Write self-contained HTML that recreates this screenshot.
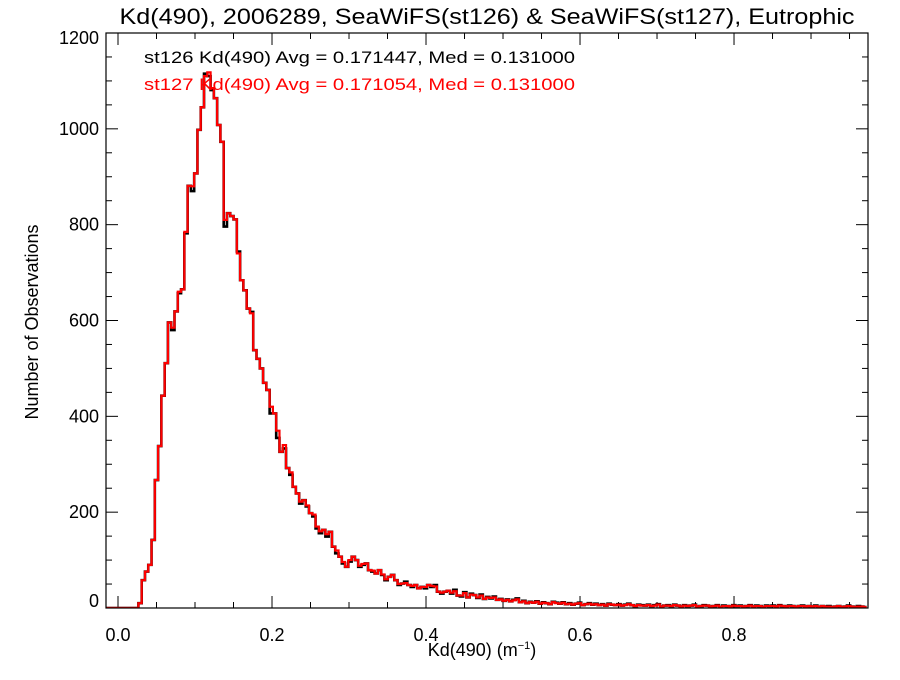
<!DOCTYPE html>
<html><head><meta charset="utf-8"><style>
html,body{margin:0;padding:0;background:#fff;}
svg text{font-family:"Liberation Sans",Arial,sans-serif;}
</style></head><body>
<svg id="chart" width="900" height="675" xmlns="http://www.w3.org/2000/svg">
<rect x="0" y="0" width="900" height="675" fill="#fff"/>
<text x="487" y="24" font-size="22" text-anchor="middle" textLength="735" lengthAdjust="spacingAndGlyphs">Kd(490), 2006289, SeaWiFS(st126) &amp; SeaWiFS(st127), Eutrophic</text>
<g id="axes"></g>
<g id="series"></g>
<rect x="106" y="33" width="762" height="575" fill="none" stroke="#000" stroke-width="1.2"/>
<text x="144" y="63" font-size="17" fill="#000" textLength="431" lengthAdjust="spacingAndGlyphs">st126 Kd(490) Avg = 0.171447, Med = 0.131000</text>
<text x="144" y="90" font-size="17" fill="#ff0000" textLength="431" lengthAdjust="spacingAndGlyphs">st127 Kd(490) Avg = 0.171054, Med = 0.131000</text>
<text x="482" y="656" font-size="18" text-anchor="middle">Kd(490) (m<tspan font-size="11" dy="-7">−1</tspan><tspan dy="7">)</tspan></text>
<text x="0" y="0" font-size="18" text-anchor="middle" transform="translate(38,322) rotate(-90)">Number of Observations</text>
</svg>
<script>
const binStart = 0.0265;
const binWidth = 0.00426;
const st126 = [10,58,76,90,142,267,338,443,511,596,580,619,657,665,
782,881,870,907,998,1045,1115,1110,1081,1064,1008,973,796,824,818,811,744,684,663,625,618,538,
520,500,470,
455,406,406,355,326,333,292,278,253,239,218,225,212,198,191,166,156,163,149,159,128,114,107,93,86,97,107,100,86,90,93,79,76,72,79,69,58,65,69,58,48,51,55,48,44,48,41,44,41,48,44,48,34,30,34,36,
30,38,26,24,33,22,30,27,21,28,19,23,
20,24,17,19,15,18,14,17,20,
12,15,10,13,11,14,9,12,10,8,13,11,9,12,
8,10,7,9,11,6,8,10,7,9,6,8,5,9,7,6,8,5,7,9,6,4,7,
6,5,7,4,6,8,3,5,6,4,7,5,3,6,4,5,7,3,4,6,5,3,4,6,2,5,4,3,6,4,5,3,4,6,3,5,4,2,5,
4,5,3,6,4,3,5,4,2,4,5,3,4,3,5,2,4,3,4,2,3,4,2,3,5,3,2,4,3,2];
const st127 = [10,58,76,90,142,267,338,443,511,596,585,619,660,665,
785,881,880,907,998,1045,1110,1118,1085,1064,1008,973,810,824,818,811,740,684,663,625,615,538,
520,500,470,
455,420,406,370,326,340,292,283,253,239,222,225,214,198,195,170,160,163,154,159,128,120,107,96,86,100,107,100,88,92,93,79,78,72,79,70,60,65,69,58,50,51,52,48,46,48,41,44,44,48,46,45,34,32,34,36,
32,35,26,26,31,22,28,27,22,26,19,22,
21,22,17,18,15,17,14,16,18,
12,14,10,12,11,13,9,11,10,8,12,10,9,11,
8,9,7,9,10,6,8,9,7,8,6,7,5,8,7,6,7,5,6,8,6,4,6,
5,5,6,4,5,7,3,5,5,4,6,5,3,5,4,5,6,3,4,5,5,3,4,5,2,4,4,3,5,4,4,3,4,5,3,4,4,2,4,
4,4,3,5,4,3,4,4,2,4,4,3,4,3,4,2,4,3,3,2,3,4,2,3,4,3,2,3,3,2];
const xTicks = [0.0,0.2,0.4,0.6,0.8];
const xTickLabels = ["0.0","0.2","0.4","0.6","0.8"];
const yTicks = [0,200,400,600,800,1000,1200];
const yTickLabels = ["0","200","400","600","800","1000","1200"];

const L=106,R=868,T=33,B=608;
const xMin=-0.0156,xMax=0.974,yMin=0,yMax=1200;
function sx(v){return L+(v-xMin)/(xMax-xMin)*(R-L);}
function sy(v){return B-(v-yMin)/(yMax-yMin)*(B-T);}
const NS="http://www.w3.org/2000/svg";
const axes=document.getElementById('axes');
const series=document.getElementById('series');
function mk(tag,attrs,parent){const e=document.createElementNS(NS,tag);for(const k in attrs)e.setAttribute(k,attrs[k]);parent.appendChild(e);return e;}

for(let i=0;i*0.05<=xMax;i++){
  const v=i*0.05, x=sx(v), major=(i%4===0), len=major?12:6;
  const t1=mk('line',{x1:x,x2:x,y1:B,y2:B-len,stroke:'#000','stroke-width':1},axes);
  
  
  const t2=mk('line',{x1:x,x2:x,y1:T,y2:T+len,stroke:'#000','stroke-width':1},axes);
  
  
}
xTicks.forEach((v,i)=>{
  const t=mk('text',{x:sx(v),y:641,'font-size':18,'text-anchor':'middle'},axes);
  t.textContent=xTickLabels[i];
  
  
});
for(let v=0;v<=yMax;v+=50){
  const y=sy(v), major=(v%200===0), len=major?12:6;
  const t1=mk('line',{x1:L,x2:L+len,y1:y,y2:y,stroke:'#000','stroke-width':1},axes);
  
  
  const t2=mk('line',{x1:R,x2:R-len,y1:y,y2:y,stroke:'#000','stroke-width':1},axes);
  
  
}
yTicks.forEach((v,i)=>{
  let y=sy(v)+6;
  if(v===0) y=sy(v)-1;
  if(v===yMax) y=sy(v)+11;
  const t=mk('text',{x:99,y:y,'font-size':18,'text-anchor':'end'},axes);
  t.textContent=yTickLabels[i];
  
  
});

function stepPath(arr){
  let d='M'+L+','+sy(0)+' L'+sx(binStart)+','+sy(0);
  for(let i=0;i<arr.length;i++){
    const x0=sx(binStart+i*binWidth), x1=sx(binStart+(i+1)*binWidth);
    if(x0>=R) break;
    const y=sy(arr[i]);
    d+=' L'+x0.toFixed(2)+','+y.toFixed(2)+' L'+Math.min(x1,R).toFixed(2)+','+y.toFixed(2);
  }
  return d;
}
const clip=mk('clipPath',{id:'plotclip'},series);
mk('rect',{x:L,y:T,width:R-L,height:B-T},clip);
const p1=mk('path',{d:stepPath(st126),fill:'none',stroke:'#000','stroke-width':2.6,'clip-path':'url(#plotclip)'},series);


const p2=mk('path',{d:stepPath(st127),fill:'none',stroke:'#ff0000','stroke-width':2.2,'clip-path':'url(#plotclip)'},series);


</script>
</body></html>
